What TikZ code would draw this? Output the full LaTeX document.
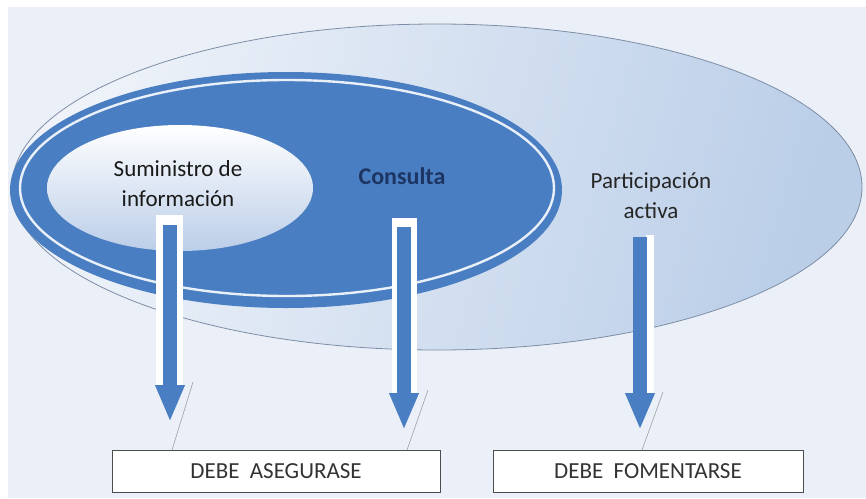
\documentclass[tikz,border=0pt]{standalone}
\usepackage{fontspec}
\setmainfont{Carlito}
\usetikzlibrary{arrows.meta,shapes.geometric,positioning}
\definecolor{fondo}{HTML}{EBF0F8}
\definecolor{azul}{HTML}{4A7EC2}
\definecolor{azulclaro}{HTML}{6A9AD8}
\definecolor{marino}{HTML}{1C3563}
\definecolor{bordegris}{HTML}{7D8DA5}

\begin{document}
\begin{tikzpicture}[x=1pt,y=1pt,
  flecha/.style={line width=14pt, draw=azul, -{Triangle[length=37pt,width=27pt]}},
  sombra/.style={fill=white, draw=none},
  guia/.style={draw=gray!75, line width=0.6pt},
  caja/.style={draw=black!70, fill=white, line width=0.8pt, minimum width=#1,
    minimum height=42pt, inner sep=0pt, font=\fontsize{23}{26}\selectfont, text=black!80},
  rotulo/.style={align=center, font=\fontsize{23}{30}\selectfont}]
\useasboundingbox (0,0) rectangle (866,-498);

% Background
\fill[fondo] (8,-7) rectangle (866,-498);

% Outer ellipse: participacion activa
\node[ellipse, draw=bordegris, line width=0.8pt, minimum width=850pt, minimum height=326pt,
  left color=fondo!80!white, middle color=fondo!88!azul, right color=azul!38!white,
  shading angle=75] (activa) at (437,-187) {};

% Middle ellipse: consulta
\node[ellipse, fill=azul, minimum width=552pt, minimum height=236pt,
  inner sep=0pt] (consulta) at (286,-190) {};
\draw[white!85!azulclaro, line width=2.4pt] (287,-188) ellipse [x radius=267, y radius=108];

% Inner ellipse: suministro
\node[ellipse, top color=white, bottom color=azul!30!fondo, minimum width=266pt,
  minimum height=126pt, inner sep=0pt] (suministro) at (180,-188) {};

% Labels
\node[rotulo, text=black!90] (tsum) at (178,-184) {Suministro de\\información};
\node[rotulo, text=marino, font=\fontsize{24}{30}\selectfont\bfseries] (tcon) at (402,-176) {Consulta};
\node[rotulo, text=black!85] (tact) at (651,-196) {Participación\\activa};

% Boxes
\node[caja=328pt] (asegurar) at (276,-471) {DEBE \ ASEGURASE};
\node[caja=310pt] (fomentar) at (648,-471) {DEBE \ FOMENTARSE};

% Arrow ends
\coordinate (f1a) at (170,-225);
\coordinate (f1b) at (170,-422);
\coordinate (f2a) at (404,-227);
\coordinate (f2b) at (404,-430);
\coordinate (f3a) at (640,-237);
\coordinate (f3b) at (640,-430);

% White frames behind arrows
\fill[sombra] (156,-215) rectangle (183,-386);
\fill[sombra] (392,-218) rectangle (417,-393);
\fill[sombra] (646,-235) rectangle (654,-394);

% Arrows
\draw[flecha] (f1a) -- (f1b);
\draw[flecha] (f2a) -- (f2b);
\draw[flecha] (f3a) -- (f3b);

% Thin slanted lines
\coordinate (g1) at (193,-382);
\coordinate (g2) at (428,-390);
\coordinate (g3) at (663,-392);
\coordinate (h1) at (172,-450);
\coordinate (h2) at (407,-450);
\coordinate (h3) at (642,-450);
\draw[guia] (g1) -- (h1);
\draw[guia] (g2) -- (h2);
\draw[guia] (g3) -- (h3);
\end{tikzpicture}
\end{document}
